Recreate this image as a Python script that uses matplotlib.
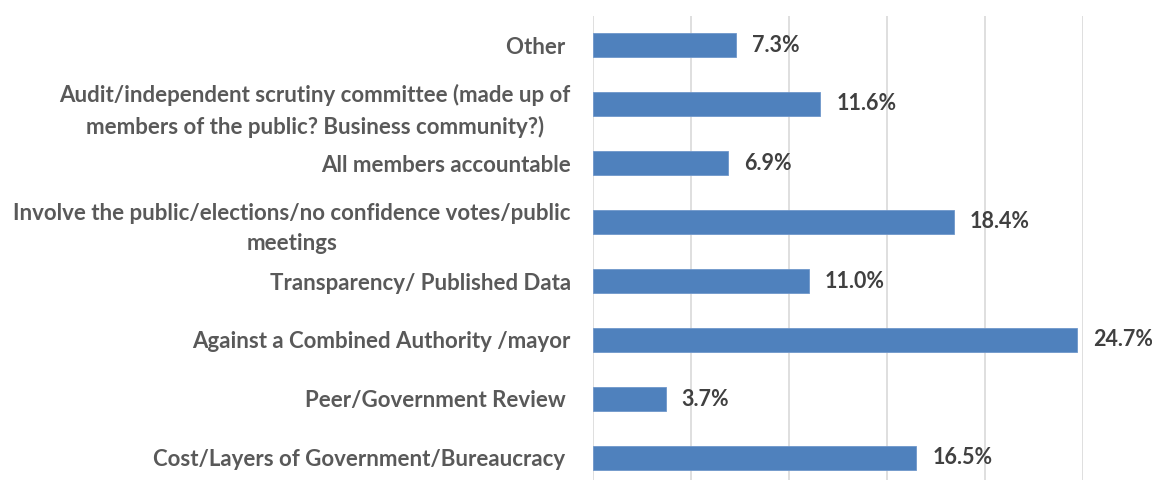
import matplotlib
matplotlib.use("Agg")
import matplotlib.pyplot as plt

categories = [
    "Cost/Layers of Government/Bureaucracy ",
    "Peer/Government Review ",
    "Against a Combined Authority /mayor",
    "Transparency/ Published Data",
    "Involve the public/elections/no confidence votes/public\nmeetings",
    "All members accountable",
    "Audit/independent scrutiny committee (made up of\nmembers of the public? Business community?)",
    "Other ",
]
values = [16.5, 3.7, 24.7, 11.0, 18.4, 6.9, 11.6, 7.3]
value_labels = ["16.5%", "3.7%", "24.7%", "11.0%", "18.4%", "6.9%", "11.6%", "7.3%"]

plt.rcParams['font.family'] = ['Lato', 'DejaVu Sans']

fig = plt.figure(figsize=(11.52, 4.8), dpi=100)
ax = fig.add_axes([593/1152, 1 - 487.5/480, 490/1152, 472/480])

pos = list(range(len(categories)))
bars = ax.barh(pos, values, height=0.4, color="#4F81BD", edgecolor="#6F97CB", linewidth=0.6, zorder=3)

for b, lab in zip(bars, value_labels):
    ax.annotate(lab, (b.get_width(), b.get_y() + b.get_height() / 2),
                xytext=(11.5, 0), textcoords="offset points",
                ha="left", va="center", fontsize=15.5, fontweight="bold",
                color="#404040", annotation_clip=False)

ax.set_xlim(0, 25)
ax.set_ylim(-0.5, len(categories) - 0.5)
ax.set_xticks([0, 5, 10, 15, 20, 25])
ax.set_xticklabels([])
ax.tick_params(axis="x", length=0)
ax.set_yticks(pos)
ax.set_yticklabels(categories, fontsize=16, fontweight="bold", color="#595959",
                   multialignment="center", linespacing=1.55)
ax.tick_params(axis="y", length=0, pad=16)
ax.grid(axis="x", color="#D9D9D9", linewidth=1.2, zorder=0)
for s in ax.spines.values():
    s.set_visible(False)

fig.savefig("out.png", dpi=100)
